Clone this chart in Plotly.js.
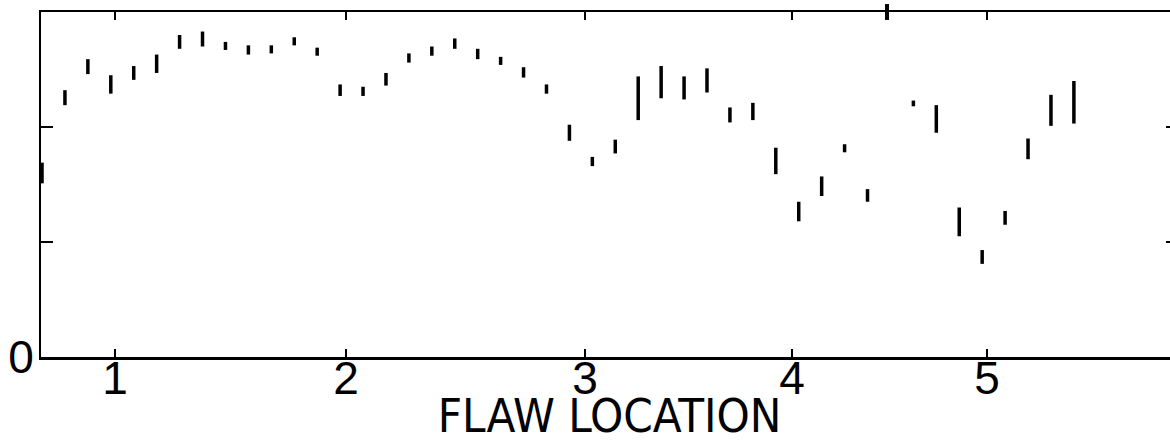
<!DOCTYPE html>
<html>
<head>
<meta charset="utf-8">
<script src="https://cdn.plot.ly/plotly-3.0.1.min.js"></script>
<style>
  html, body { margin: 0; padding: 0; background: #fff; overflow: hidden; }
  #chart { width: 1182px; height: 443px; }
</style>
</head>
<body>
<div id="chart"></div>
<script>
// Scan position index of each measurement (evenly spaced along the scan)
const scanIndex = [0,1,2,3,4,5,6,7,8,9,10,11,12,13,14,15,16,17,18,19,20,21,22,23,24,25,26,27,28,29,30,31,32,33,34,35,36,38,39,40,41,42,43,44,45];
// Lower end of each measured range
const lowVals  = [1.51,2.19,2.46,2.29,2.41,2.47,2.68,2.70,2.67,2.63,2.64,2.71,2.62,2.27,2.27,2.36,2.56,2.62,2.68,2.59,2.54,2.43,2.29,1.88,1.66,1.77,2.06,2.25,2.24,2.30,2.04,2.06,1.59,1.18,1.40,1.78,1.35,2.18,1.95,1.05,0.81,1.15,1.72,2.01,2.03];
// Upper end of each measured range
const highVals = [1.69,2.32,2.59,2.45,2.53,2.63,2.80,2.83,2.74,2.71,2.71,2.78,2.69,2.37,2.35,2.47,2.64,2.70,2.77,2.68,2.61,2.52,2.37,2.02,1.74,1.89,2.44,2.53,2.44,2.51,2.17,2.21,1.82,1.35,1.57,1.85,1.46,2.23,2.19,1.30,0.93,1.27,1.90,2.28,2.40];
// Flaw location marks along the scan axis
const flawTickPos  = [3.18, 13.26, 23.68, 32.71, 41.21];
const flawTickText = ["1", "2", "3", "4", "5"];
// Extra long mark on the top edge
const extraTopTicks = [36.85];
// Y axis ticks
const yTickVals = [0, 1, 2];
const yTickText = ["0", "", ""];

const segX = [], segY = [];
for (let k = 0; k < scanIndex.length; k++) {
  segX.push(scanIndex[k], scanIndex[k], null);
  segY.push(lowVals[k], highVals[k], null);
}

const trace = {
  type: 'scatter', mode: 'lines', x: segX, y: segY,
  line: { color: '#000', width: 3.5 }, hoverinfo: 'skip', connectgaps: false
};

const tickFont = { family: 'Liberation Sans, Arial, sans-serif', size: 46, color: '#000' };

const shapes = extraTopTicks.map(v => ({
  type: 'line', xref: 'x', yref: 'paper', x0: v, x1: v, y0: 0.977, y1: 1.023,
  line: { color: '#000', width: 4 }
}));

const layout = {
  width: 1182, height: 443,
  margin: { l: 41, r: 4, t: 12, b: 86 },
  paper_bgcolor: '#fff', plot_bgcolor: '#fff',
  showlegend: false,
  xaxis: {
    range: [-0.044, 49.54],
    tickmode: 'array', tickvals: flawTickPos, ticktext: flawTickText,
    ticks: 'inside', ticklen: 8, tickwidth: 2, tickcolor: '#000',
    ticklabelstandoff: -21,
    showline: true, linewidth: 2.5, linecolor: '#000', mirror: 'ticks',
    showgrid: false, zeroline: false,
    tickfont: tickFont,
    title: { text: 'FLAW LOCATION', standoff: 4,
      font: { family: 'DejaVu Sans Condensed, Liberation Sans Narrow, sans-serif', size: 47, color: '#000' } }
  },
  yaxis: {
    range: [0, 3],
    tickmode: 'array', tickvals: yTickVals, ticktext: yTickText,
    ticks: 'inside', ticklen: 12, tickwidth: 2, tickcolor: '#000',
    ticklabelstandoff: -4,
    showline: true, linewidth: 2, linecolor: '#000', mirror: 'ticks',
    showgrid: false, zeroline: false,
    tickfont: tickFont
  },
  shapes: shapes
};

Plotly.newPlot('chart', [trace], layout, { staticPlot: true, displayModeBar: false });
</script>
</body>
</html>
